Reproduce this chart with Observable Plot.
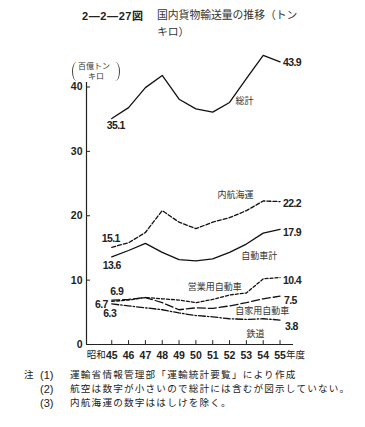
<!DOCTYPE html>
<html><head><meta charset="utf-8">
<script src="https://cdn.jsdelivr.net/npm/d3@7"></script>
<script src="https://cdn.jsdelivr.net/npm/@observablehq/plot@0.6"></script>
<style>
body{margin:0;background:#fff;width:365px;height:427px;position:relative;overflow:hidden;font-family:"Noto Sans CJK JP",sans-serif;color:#222}
.abs{position:absolute;white-space:nowrap;line-height:1}
.note{font-size:9.6px;letter-spacing:1.2px;left:70px}
.num{font-family:'Liberation Sans',sans-serif;font-size:11px;left:40px}
#chart{position:absolute;left:0;top:44px}
#chart svg{overflow:visible}
.brk{position:absolute;width:4px;height:19px;border:0 solid #444}
</style></head><body>
<div class="abs" style="left:82px;top:10px;font-size:11px;font-weight:bold;letter-spacing:0.6px;font-family:'Liberation Sans',sans-serif">2—2—27<span style="font-family:'Noto Sans CJK JP';letter-spacing:0">図</span></div>
<div class="abs" style="left:157px;top:9px;font-size:10.8px;color:#333">国内貨物輸送量の推移（トン</div>
<div class="abs" style="left:157px;top:26px;font-size:10.8px;color:#333">キロ）</div>
<div id="chart"></div>
<div class="brk" style="left:72px;top:62px;border-left-width:1px;border-radius:5px 0 0 5px / 10px 0 0 10px"></div>
<div class="abs" style="left:78px;top:62px;font-size:8px;color:#333">百億トン</div>
<div class="abs" style="left:88px;top:72px;font-size:8px;color:#333">キロ</div>
<div class="brk" style="left:115px;top:62px;border-right-width:1px;border-radius:0 5px 5px 0 / 0 10px 10px 0"></div>
<div class="abs" style="left:24px;top:370px;font-size:9.6px">注</div>
<div class="abs num" style="top:370px">(1)</div>
<div class="abs note" style="top:370px">運輸省情報管理部「運輸統計要覧」により作成</div>
<div class="abs num" style="top:384px">(2)</div>
<div class="abs note" style="top:384px">航空は数字が小さいので総計には含むが図示していない。</div>
<div class="abs num" style="top:398px">(3)</div>
<div class="abs note" style="top:398px">内航海運の数字ははしけを除く。</div>
<script>
// ---- data ----
const years = [45, 46, 47, 48, 49, 50, 51, 52, 53, 54, 55];
const total      = [35.1, 36.8, 39.9, 41.8, 38.1, 36.6, 36.1, 37.6, 41.3, 44.9, 43.9];
const coastal    = [15.1, 15.8, 17.4, 20.8, 19.0, 18.0, 19.0, 19.7, 20.8, 22.3, 22.2];
const autoTotal  = [13.6, 14.6, 15.7, 14.3, 13.2, 13.0, 13.3, 14.3, 15.6, 17.3, 17.9];
const commercial = [6.7, 6.9, 7.3, 7.1, 6.9, 6.5, 7.0, 7.7, 8.0, 10.2, 10.4];
const privateCar = [6.9, 7.0, 7.3, 6.5, 5.4, 5.7, 5.6, 6.0, 6.5, 7.1, 7.5];
const rail       = [6.3, 6.0, 5.7, 5.4, 4.9, 4.5, 4.3, 4.0, 3.9, 4.0, 3.8];
const seriesNames = ["総計", "内航海運", "自動車計", "営業用自動車", "自家用自動車", "鉄道"];
const seriesValues = [total, coastal, autoTotal, commercial, privateCar, rail];
const yTicks = [0, 10, 20, 30, 40];
const xPrefix = "昭和", xSuffix = "年度";

// ---- styles (not data) ----
const dash = {"総計": null, "内航海運": "4,2", "自動車計": null, "営業用自動車": "3,2", "自家用自動車": "8,3", "鉄道": "7,2,1.5,2"};
const startLab = {"総計": [4, 7, "middle"], "内航海運": [-1, -9, "middle"], "自動車計": [0, 9, "middle"],
  "営業用自動車": [-4, 3, "end"], "自家用自動車": [5, -8, "middle"], "鉄道": [-2, 10, "middle"]};
const endLab = {"総計": [3, 1], "内航海運": [3, 2], "自動車計": [3, 3], "営業用自動車": [3, 3], "自家用自動車": [4, 4], "鉄道": [5, 7]};
const nameLab = {"総計": [7, 6, -1, "start"], "内航海運": [8, -11, -15, "middle"], "自動車計": [9, -4, 23, "middle"],
  "営業用自動車": [6, 2, -12, "middle"], "自家用自動車": [9, -1, 12, "middle"], "鉄道": [8, 9, 15, "middle"]};

const rows = seriesNames.flatMap((s, i) => years.map((y, j) => ({series: s, year: y, value: seriesValues[i][j]})));
const xDomain = [43.5, 55.8];
const numFont = "'Liberation Sans', Arial, sans-serif";
const jpFont = "'Noto Sans CJK JP', sans-serif";

const marks = [
  Plot.ruleX([xDomain[0]], {stroke: "#222", strokeWidth: 1.2}),
  Plot.ruleY([0], {stroke: "#222", strokeWidth: 1.2}),
  Plot.ruleY(yTicks.filter(d => d > 0), {x1: xDomain[0], x2: xDomain[0] + 0.24, stroke: "#222"}),
  Plot.ruleX(years, {y1: 0, y2: 0.6, stroke: "#222"}),
  Plot.axisY({ticks: yTicks, tickSize: 0, tickPadding: 4, label: null, fontSize: 10.5, fontWeight: "bold", fontFamily: numFont, fill: "#222"}),
  Plot.axisX({ticks: years, tickSize: 0, tickPadding: 7, label: null, fontSize: 10.5, fontWeight: "bold", fontFamily: numFont, fill: "#222"}),
  Plot.text([years[0]], {x: d => d, frameAnchor: "bottom", text: () => xPrefix, dx: -6, dy: 13, textAnchor: "end", fontSize: 9.5, fontFamily: jpFont, fill: "#222"}),
  Plot.text([years[years.length - 1]], {x: d => d, frameAnchor: "bottom", text: () => xSuffix, dx: 6, dy: 13, textAnchor: "start", fontSize: 9.5, fontFamily: jpFont, fill: "#222"})
];
seriesNames.forEach((s, i) => {
  const d = rows.filter(r => r.series === s);
  marks.push(Plot.line(d, {x: "year", y: "value", stroke: "#111", strokeWidth: 1.3, strokeDasharray: dash[s] || undefined, curve: "linear"}));
  const a = d[0], b = d[d.length - 1];
  const sl = startLab[s], el = endLab[s], nl = nameLab[s];
  marks.push(Plot.text([a], {x: "year", y: "value", text: r => r.value.toFixed(1), dx: sl[0], dy: sl[1], textAnchor: sl[2], fontSize: 10.5, fontWeight: "bold", fontFamily: numFont, fill: "#222"}));
  marks.push(Plot.text([b], {x: "year", y: "value", text: r => r.value.toFixed(1), dx: el[0], dy: el[1], textAnchor: "start", fontSize: 10.5, fontWeight: "bold", fontFamily: numFont, fill: "#222"}));
  marks.push(Plot.text([d[nl[0]]], {x: "year", y: "value", text: () => s, dx: nl[1], dy: nl[2], textAnchor: nl[3], fontSize: 9, fontFamily: jpFont, fill: "#333"}));
});

const chart = Plot.plot({
  width: 365, height: 320,
  marginTop: 38, marginBottom: 20, marginLeft: 86, marginRight: 72,
  x: {domain: xDomain, axis: null},
  y: {domain: [0, 40.7], axis: null},
  style: {background: "transparent", overflow: "visible"},
  marks
});
document.getElementById("chart").appendChild(chart);
// condense the value labels a little, as in the printed figure
d3.select(chart).selectAll("text").filter(function() { return /^\d+\.\d$/.test(this.textContent); })
  .style("letter-spacing", "-0.6px");
</script>
</body></html>
